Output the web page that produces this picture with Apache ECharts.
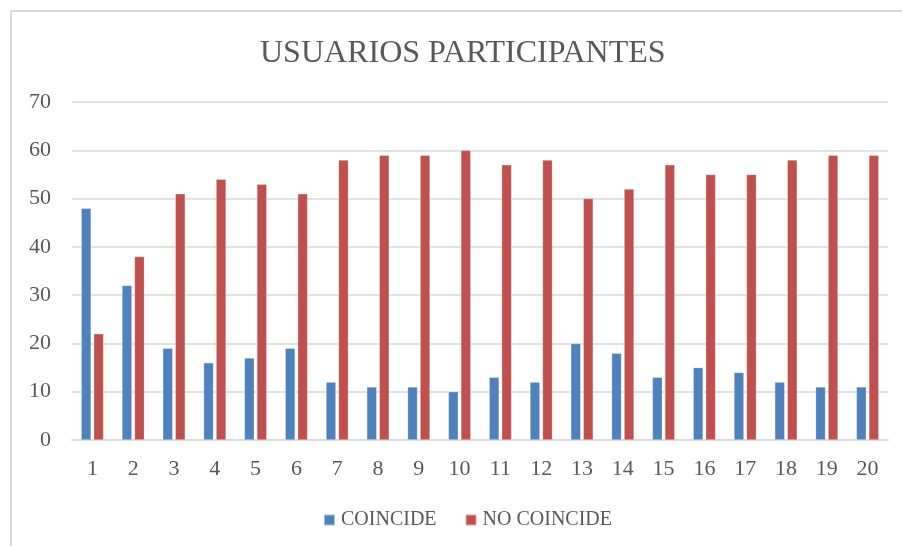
<!DOCTYPE html>
<html><head><meta charset="utf-8">
<script src="https://cdn.jsdelivr.net/npm/echarts@6/dist/echarts.min.js"></script>
<style>html,body{margin:0;padding:0;background:#fff}#c{width:902px;height:546px}</style>
</head><body><div id="c"></div>
<script>
const categories = ['1','2','3','4','5','6','7','8','9','10','11','12','13','14','15','16','17','18','19','20'];
const coincide = [48,32,19,16,17,19,12,11,11,10,13,12,20,18,13,15,14,12,11,11];
const noCoincide = [22,38,51,54,53,51,58,59,59,60,57,58,50,52,57,55,55,58,59,59];
const yTicks = [0,10,20,30,40,50,60,70];

const font = 'Liberation Serif';
const chart = echarts.init(document.getElementById('c'));
chart.setOption({
  animation: false,
  title: {
    text: 'USUARIOS PARTICIPANTES', left: 255, top: 33, itemGap: 0,
    textStyle: {fontFamily: font, fontSize: 32, fontWeight: 'normal', color: '#595959'}
  },
  graphic: [{type: 'rect', shape: {x: 11, y: 11, width: 900, height: 540}, style: {fill: 'none', stroke: '#d9d9d9', lineWidth: 2}}],
  legend: {
    bottom: 11, left: 318, itemWidth: 11, itemHeight: 11, itemGap: 28,
    icon: 'rect',
    textStyle: {fontFamily: font, fontSize: 20, color: '#595959', padding: [0, 0, 0, 1]},
    data: ['COINCIDE', 'NO COINCIDE']
  },
  grid: {left: 72, right: 14, top: 102, bottom: 106, containLabel: false},
  xAxis: {
    type: 'category', data: categories,
    axisLine: {lineStyle: {color: '#d9d9d9', width: 1.5}},
    axisTick: {show: false},
    axisLabel: {fontFamily: font, fontSize: 22, color: '#595959', margin: 18}
  },
  yAxis: {
    type: 'value', min: 0, max: 70, interval: 10,
    axisLine: {show: false}, axisTick: {show: false},
    splitLine: {lineStyle: {color: '#d9d9d9', width: 1.5}},
    axisLabel: {fontFamily: font, fontSize: 22, color: '#595959', margin: 21,
      formatter: v => yTicks.includes(v) ? String(v) : ''}
  },
  series: [
    {name: 'COINCIDE', type: 'bar', data: coincide, barWidth: 10, barGap: '25%',
     itemStyle: {color: '#4F81BD', borderColor: 'rgba(255,255,255,0.5)', borderWidth: 0.6}},
    {name: 'NO COINCIDE', type: 'bar', data: noCoincide, barWidth: 10,
     itemStyle: {color: '#C0504D', borderColor: 'rgba(255,255,255,0.5)', borderWidth: 0.6}}
  ]
});
</script></body></html>
